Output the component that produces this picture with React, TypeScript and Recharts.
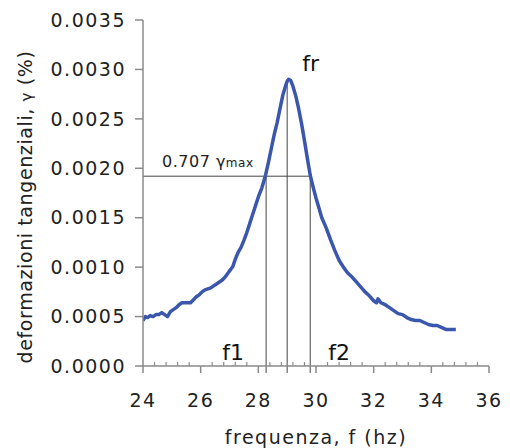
import React from 'react';
import { LineChart, Line, XAxis, YAxis, ReferenceLine } from 'recharts';

const freq = [
  24.0, 24.08, 24.16, 24.25, 24.35, 24.45, 24.55, 24.65, 24.75, 24.85, 24.95,
  25.05, 25.15, 25.25, 25.35, 25.5, 25.65, 25.75, 25.85, 25.95, 26.05, 26.15,
  26.25, 26.35, 26.45, 26.55, 26.65, 26.75, 26.85, 26.95, 27.05, 27.12, 27.2,
  27.3, 27.4, 27.5, 27.6, 27.7, 27.8, 27.9, 28.0, 28.12, 28.25, 28.35, 28.45,
  28.55, 28.65, 28.75, 28.85, 28.95, 29.0, 29.05, 29.12, 29.2, 29.3, 29.4, 29.5,
  29.6, 29.7, 29.8, 29.9, 30.0, 30.1, 30.2, 30.35, 30.5, 30.65, 30.8, 30.95,
  31.1, 31.25, 31.4, 31.55, 31.7, 31.85, 32.0, 32.1, 32.15, 32.25, 32.4,
  32.55, 32.7, 32.85, 33.0, 33.15, 33.3, 33.45, 33.6, 33.75, 33.9, 34.05,
  34.2, 34.35, 34.5, 34.65, 34.85,
];

const strain = [
  0.00046, 0.0005, 0.00049, 0.00051, 0.0005, 0.00052, 0.00052, 0.00054, 0.00052, 0.0005, 0.00055,
  0.00057, 0.00059, 0.00062, 0.00064, 0.00064, 0.00064, 0.00067, 0.0007, 0.00072, 0.00075, 0.00077,
  0.00078, 0.00079, 0.00081, 0.00083, 0.00085, 0.00087, 0.0009, 0.00094, 0.00098, 0.00101, 0.00108,
  0.00115, 0.0012, 0.00127, 0.00135, 0.00144, 0.00153, 0.00162, 0.00171, 0.0018, 0.00193, 0.00206, 0.0022,
  0.00234, 0.00246, 0.0026, 0.00274, 0.00284, 0.00288, 0.0029, 0.00289, 0.00283, 0.00273, 0.0026, 0.00245,
  0.00228, 0.0021, 0.00193, 0.00181, 0.0017, 0.0016, 0.0015, 0.0014, 0.00128, 0.00117, 0.00107, 0.001,
  0.00094, 0.0009, 0.00085, 0.0008, 0.00075, 0.00071, 0.00066, 0.00064, 0.00068, 0.00064, 0.00062,
  0.00059, 0.00056, 0.00053, 0.00052, 0.00049, 0.00047, 0.00046, 0.00046, 0.00044, 0.00042, 0.00041,
  0.00041, 0.00039, 0.00037, 0.00037, 0.00037,
];

const xMajorTicks = [24, 26, 28, 30, 32, 34, 36];
const xMinorTicks = [
  24.4, 24.8, 25.2, 25.6, 26.4, 26.8, 27.2, 27.6, 28.4, 28.8, 29.2, 29.6,
  30.4, 30.8, 31.2, 31.6, 32.4, 32.8, 33.2, 33.6, 34.4, 34.8, 35.2, 35.6,
];
const yTicks = [0, 0.0005, 0.001, 0.0015, 0.002, 0.0025, 0.003, 0.0035];

const f1 = 28.27;
const fr = 29.0;
const f2 = 29.8;
const gammaMax = 0.0029;
const gamma707 = 0.00192;
const dropBottom = -0.00007;

const data = freq.map((f, i) => ({ f, g: strain[i] }));
const allXTicks = [...xMajorTicks, ...xMinorTicks].sort((a, b) => a - b);

const FONT = 'DejaVu Sans';
const AXIS = '#8a8a8a';
const REF = '#444';

const XTick = (props: any) => {
  const { x, y, payload } = props;
  const v = payload.value;
  if (xMajorTicks.includes(v)) {
    return (
      <g>
        <line x1={x} x2={x} y1={y} y2={y + 7} stroke={AXIS} strokeWidth={1.5} />
        <text x={x} y={y + 41} textAnchor="middle" fontFamily={FONT} fontSize={19} letterSpacing={1.5} fill="#222">
          {v}
        </text>
      </g>
    );
  }
  return <line x1={x} x2={x} y1={y - 4} y2={y} stroke={AXIS} strokeWidth={1.2} />;
};

const YLabel = (props: any) => {
  const vb = props.viewBox;
  const x = vb.x + 32;
  const y = vb.y + vb.height / 2 + 14;
  return (
    <text x={x} y={y} transform={`rotate(-90 ${x} ${y})`} textAnchor="middle" fontFamily={FONT} fontSize={19} letterSpacing={0.6} fill="#222">
      deformazioni tangenziali, <tspan fontSize={15}>γ</tspan> (%)
    </text>
  );
};

const XLabel = (props: any) => {
  const vb = props.viewBox;
  return (
    <text x={vb.x + vb.width / 2} y={vb.y + 78} textAnchor="middle" fontFamily={FONT} fontSize={19} letterSpacing={1.5} fill="#222">
      frequenza, f (hz)
    </text>
  );
};

const HLabel = (props: any) => {
  const vb = props.viewBox;
  return (
    <text x={vb.x + 19} y={vb.y - 9} fontFamily={FONT} fontSize={16} letterSpacing={0.5} fill="#222">
      0.707 <tspan fontSize={16}>γ</tspan>
      <tspan fontSize={12}>max</tspan>
    </text>
  );
};

const FrLabel = (props: any) => {
  const vb = props.viewBox;
  return (
    <text x={vb.x + 15} y={vb.y - 8} fontFamily={FONT} fontSize={22} fill="#111">
      fr
    </text>
  );
};

const F1Label = (props: any) => {
  const vb = props.viewBox;
  return (
    <text x={vb.x - 22} y={vb.y + vb.height - 13} textAnchor="end" fontFamily={FONT} fontSize={22} fill="#111">
      f1
    </text>
  );
};

const F2Label = (props: any) => {
  const vb = props.viewBox;
  return (
    <text x={vb.x + 18} y={vb.y + vb.height - 13} fontFamily={FONT} fontSize={22} fill="#111">
      f2
    </text>
  );
};

export default function App() {
  return (
    <div style={{ position: 'absolute', left: 0, top: 0, width: 510, height: 448, background: '#fff' }}>
      <LineChart width={510} height={448} data={data} margin={{ top: 20, right: 21, bottom: 0, left: 0 }}>
        <XAxis
          dataKey="f"
          type="number"
          domain={[24, 36]}
          ticks={allXTicks}
          interval={0}
          tickSize={0}
          tickMargin={0}
          tickLine={false}
          tick={<XTick />}
          axisLine={{ stroke: AXIS, strokeWidth: 1.5 }}
          height={82}
          label={<XLabel />}
          allowDataOverflow
        />
        <XAxis xAxisId="top" orientation="top" type="number" domain={[24, 36]} tick={false} tickLine={false} axisLine={{ stroke: AXIS, strokeWidth: 1.5 }} height={0} />
        <YAxis
          type="number"
          domain={[0, 0.0035]}
          ticks={yTicks}
          interval={0}
          tickFormatter={(v: number) => v.toFixed(4)}
          tickSize={8}
          tickMargin={9}
          tickLine={{ stroke: AXIS, strokeWidth: 1.5 }}
          axisLine={{ stroke: AXIS, strokeWidth: 1.5 }}
          tick={{ fontFamily: FONT, fontSize: 19, letterSpacing: 1.5, fill: '#222' }}
          width={143}
          label={<YLabel />}
          allowDataOverflow
        />
        <YAxis yAxisId="right" orientation="right" type="number" domain={[0, 0.0035]} tick={false} tickLine={false} axisLine={{ stroke: AXIS, strokeWidth: 1.5 }} width={0} />
        <ReferenceLine
          segment={[{ x: 24, y: gamma707 }, { x: f2, y: gamma707 }]}
          stroke={REF}
          strokeWidth={1}
          ifOverflow="visible"
          label={<HLabel />}
        />
        <ReferenceLine
          segment={[{ x: f1, y: gamma707 }, { x: f1, y: dropBottom }]}
          stroke={REF}
          strokeWidth={1}
          ifOverflow="visible"
          label={<F1Label />}
        />
        <ReferenceLine
          segment={[{ x: fr, y: gammaMax }, { x: fr, y: dropBottom }]}
          stroke={REF}
          strokeWidth={1}
          ifOverflow="visible"
          label={<FrLabel />}
        />
        <ReferenceLine
          segment={[{ x: f2, y: gamma707 }, { x: f2, y: dropBottom }]}
          stroke={REF}
          strokeWidth={1}
          ifOverflow="visible"
          label={<F2Label />}
        />
        <Line
          type="linear"
          dataKey="g"
          stroke="#3a57ad"
          strokeWidth={3.5}
          dot={false}
          isAnimationActive={false}
          strokeLinejoin="round"
        />
      </LineChart>
    </div>
  );
}
